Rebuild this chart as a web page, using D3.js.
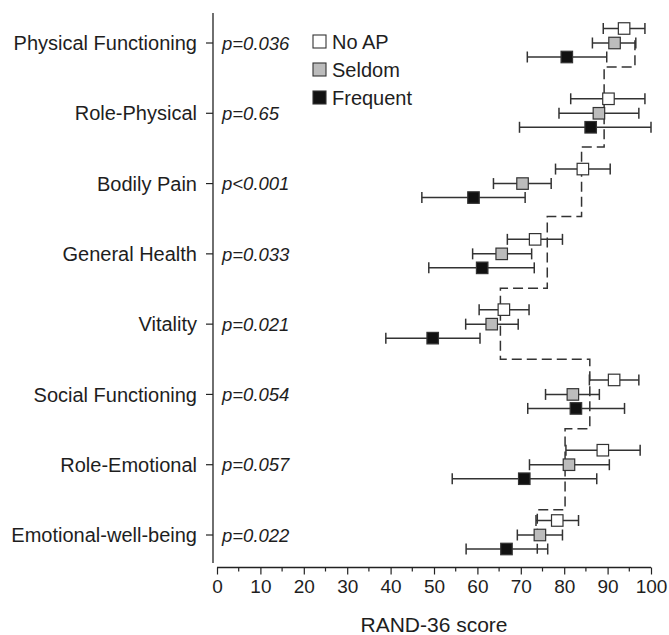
<!DOCTYPE html>
<html>
<head>
<meta charset="utf-8">
<script src="https://cdn.jsdelivr.net/npm/d3@7"></script>
<style>
  body { margin: 0; background: #fff; }
  text { font-family: "Liberation Sans", Arial, sans-serif; fill: #1e1e1e; }
</style>
</head>
<body>
<svg></svg>
<script>
// categories (top to bottom) and p-values
let categories = ['Physical Functioning', 'Role-Physical', 'Bodily Pain', 'General Health',
    'Vitality', 'Social Functioning', 'Role-Emotional', 'Emotional-well-being'];
let pValues = ['p=0.036', 'p=0.65', 'p<0.001', 'p=0.033', 'p=0.021', 'p=0.054', 'p=0.057', 'p=0.022'];

// group means and 95% CI (lower, upper)
let groups = ['No AP', 'Seldom', 'Frequent'];
let noApMean = [93.8, 90.2, 84.3, 73.3, 66.1, 91.5, 88.9, 78.4];
let noApLow = [89.0, 81.5, 78.0, 66.9, 60.4, 85.8, 80.4, 73.5];
let noApHigh = [98.6, 98.6, 90.6, 79.6, 71.9, 97.2, 97.5, 83.3];
let seldomMean = [91.6, 88.0, 70.4, 65.6, 63.3, 82.0, 81.1, 74.4];
let seldomLow = [86.5, 78.8, 63.7, 58.9, 57.3, 75.7, 72.0, 69.2];
let seldomHigh = [96.5, 97.2, 77.0, 72.5, 69.4, 88.1, 90.4, 79.6];
let frequentMean = [80.6, 86.1, 59.1, 61.1, 49.7, 82.7, 70.8, 66.7];
let frequentLow = [71.5, 69.7, 47.2, 48.8, 38.9, 71.6, 54.2, 57.4];
let frequentHigh = [89.8, 100, 71.0, 73.1, 60.6, 93.9, 87.5, 76.2];

// reference (norm) step line: value per category, breaks in category units
let normValues = [96.3, 89.2, 84.0, 76.1, 65.3, 85.9, 80.2, 73.8];
let normBreaks = [-0.04, 0.34, 1.48, 2.47, 3.49, 4.5, 5.49, 6.64, 7.31];

let xTicks = d3.range(0, 101, 10);
let xMinorTicks = d3.range(5, 100, 10);

let width = 669, height = 635;
let svg = d3.select('svg').attr('width', width).attr('height', height);

let xScale = d3.scaleLinear().domain([0, 100]).range([217, 651]);
let yIndex = d3.scaleLinear().domain([0, 7]).range([43, 535]);
let offsets = [-14.5, 0, 14];
let fills = ['#ffffff', '#bcbcbc', '#111111'];

let series = [
    { mean: noApMean, low: noApLow, high: noApHigh },
    { mean: seldomMean, low: seldomLow, high: seldomHigh },
    { mean: frequentMean, low: frequentLow, high: frequentHigh }
];

// y axis
svg.append('line')
    .attr('x1', 213).attr('x2', 213)
    .attr('y1', 13).attr('y2', 563)
    .attr('stroke', '#222').attr('stroke-width', 1.3);

svg.selectAll('.ytick')
    .data(categories)
    .enter()
    .append('line')
    .attr('x1', 206).attr('x2', 213)
    .attr('y1', (d, i) => yIndex(i)).attr('y2', (d, i) => yIndex(i))
    .attr('stroke', '#222').attr('stroke-width', 1.2);

svg.selectAll('.ylabel')
    .data(categories)
    .enter()
    .append('text')
    .attr('x', 197)
    .attr('y', (d, i) => yIndex(i))
    .attr('dy', '0.36em')
    .attr('text-anchor', 'end')
    .style('font-size', '20px')
    .text((d) => d);

svg.selectAll('.pval')
    .data(pValues)
    .enter()
    .append('text')
    .attr('x', 222)
    .attr('y', (d, i) => yIndex(i))
    .attr('dy', '0.36em')
    .style('font-size', '18.5px')
    .style('font-style', 'italic')
    .text((d) => d);

// x axis
let xAxis = d3.axisBottom(xScale).tickValues(xTicks).tickSize(7).tickPadding(5);
let gx = svg.append('g')
    .attr('transform', 'translate(0, 567.5)')
    .call(xAxis);
gx.select('.domain').attr('stroke', '#222').attr('stroke-width', 1.3).attr('d', 'M217,0H651');
gx.selectAll('.tick line').attr('stroke', '#222').attr('stroke-width', 1.2);
gx.selectAll('.tick text')
    .style('font-size', '19px')
    .style('font-family', '"Liberation Sans", Arial, sans-serif')
    .attr('fill', '#1e1e1e');

gx.selectAll('.minor')
    .data(xMinorTicks)
    .enter()
    .append('line')
    .attr('x1', (d) => xScale(d)).attr('x2', (d) => xScale(d))
    .attr('y1', 0).attr('y2', 4)
    .attr('stroke', '#222').attr('stroke-width', 1.2);

svg.append('text')
    .attr('x', (xScale(0) + xScale(100)) / 2)
    .attr('y', 632)
    .attr('text-anchor', 'middle')
    .style('font-size', '21px')
    .text('RAND-36 score');

// dashed reference step line
let stepPoints = [];
normValues.forEach((v, i) => {
    stepPoints.push([xScale(v), yIndex(normBreaks[i])]);
    stepPoints.push([xScale(v), yIndex(normBreaks[i + 1])]);
});
svg.append('path')
    .attr('d', d3.line()(stepPoints))
    .attr('fill', 'none')
    .attr('stroke', '#333')
    .attr('stroke-width', 1.5)
    .attr('stroke-dasharray', '10,5');

// error bars and markers
let capHalf = 5.5, box = 11.5;
series.forEach((s, g) => {
    let grp = svg.append('g');
    let rows = categories.map((c, i) => ({ i: i, mean: s.mean[i], low: s.low[i], high: s.high[i] }));
    let y = (d) => yIndex(d.i) + offsets[g];

    grp.selectAll('.bar')
        .data(rows).enter().append('line')
        .attr('x1', (d) => xScale(d.low)).attr('x2', (d) => xScale(d.high))
        .attr('y1', y).attr('y2', y)
        .attr('stroke', '#333').attr('stroke-width', 1.5);

    grp.selectAll('.capl')
        .data(rows).enter().append('line')
        .attr('x1', (d) => xScale(d.low)).attr('x2', (d) => xScale(d.low))
        .attr('y1', (d) => y(d) - capHalf).attr('y2', (d) => y(d) + capHalf)
        .attr('stroke', '#333').attr('stroke-width', 1.5);

    grp.selectAll('.caph')
        .data(rows).enter().append('line')
        .attr('x1', (d) => xScale(d.high)).attr('x2', (d) => xScale(d.high))
        .attr('y1', (d) => y(d) - capHalf).attr('y2', (d) => y(d) + capHalf)
        .attr('stroke', '#333').attr('stroke-width', 1.5);

    grp.selectAll('rect')
        .data(rows).enter().append('rect')
        .attr('x', (d) => xScale(d.mean) - box / 2)
        .attr('y', (d) => y(d) - box / 2)
        .attr('width', box).attr('height', box)
        .attr('fill', fills[g])
        .attr('stroke', '#333').attr('stroke-width', 1.2);
});

// legend
let legend = svg.append('g').attr('transform', 'translate(313, 41.5)');
groups.forEach((name, g) => {
    legend.append('rect')
        .attr('x', 0).attr('y', g * 28 - 6.5)
        .attr('width', 13).attr('height', 13)
        .attr('fill', fills[g])
        .attr('stroke', '#333').attr('stroke-width', 1.1);
    legend.append('text')
        .attr('x', 19).attr('y', g * 28)
        .attr('dy', '0.36em')
        .style('font-size', '20px')
        .text(name);
});
</script>
</body>
</html>
